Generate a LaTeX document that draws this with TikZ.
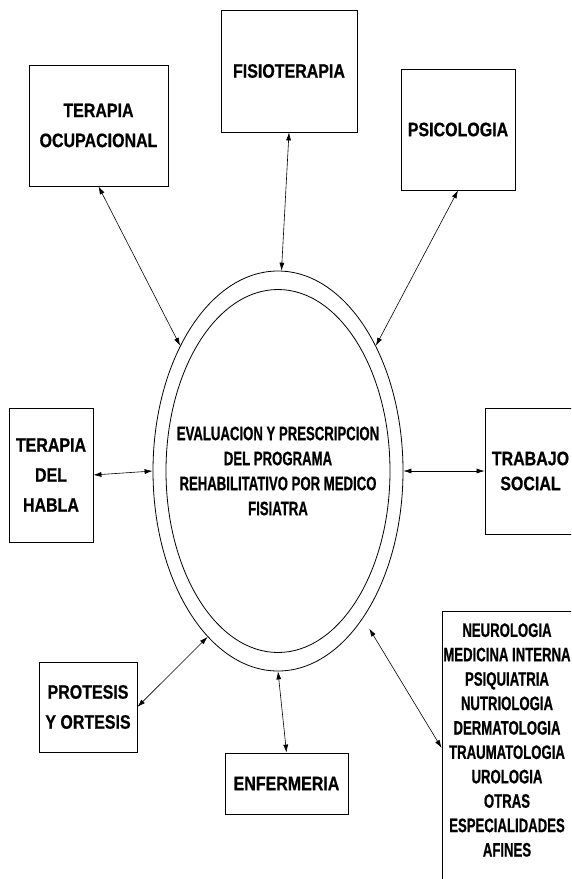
\documentclass[tikz,border=0pt]{standalone}
\usepackage{fontspec}
\newfontfamily\narrowfont{Liberation Sans}[FakeStretch=0.82, BoldFeatures={FakeBold=0.6}]
\newfontfamily\narrowerfont{Liberation Sans}[FakeStretch=0.675, BoldFeatures={FakeBold=0.6}]
\usetikzlibrary{shapes.geometric,arrows.meta}
\begin{document}
\begin{tikzpicture}[x=1pt,y=-1pt,
  box/.style={draw, line width=0.8pt, align=center, inner sep=0pt,
    font=\narrowfont\bfseries\fontsize{19.5}{30}\selectfont},
  small/.style={align=center, inner sep=0pt,
    font=\narrowerfont\bfseries\fontsize{19.5}{25}\selectfont},
  link/.style={{Latex[length=8pt,width=5pt]}-{Latex[length=8pt,width=5pt]}, line width=0.6pt}]
\useasboundingbox (0,0) rectangle (571,879);
\clip (0,0) rectangle (571,879);
\fill[white] (0,0) rectangle (571,879);

% central ellipse
\node[ellipse, draw, line width=0.8pt, minimum width=250pt, minimum height=400pt, inner sep=0pt] (el) at (278,471) {};
\draw[line width=0.8pt] (el.center) ellipse [x radius=112pt, y radius=181.5pt];
\node[small] (ev) at (el.center) {EVALUACION Y PRESCRIPCION\\DEL PROGRAMA\\REHABILITATIVO POR MEDICO\\FISIATRA};

% boxes
\node[box, minimum width=139pt, minimum height=121pt] (to) at (98.5,125.5) {TERAPIA\\OCUPACIONAL};
\node[box, minimum width=136pt, minimum height=122pt] (fi) at (289,71) {FISIOTERAPIA};
\node[box, minimum width=114pt, minimum height=121pt] (ps) at (458,129.5) {PSICOLOGIA};
\node[box, minimum width=84pt, minimum height=134pt] (hb) at (51,475) {TERAPIA\\DEL\\HABLA};
\node[box, minimum width=91pt, minimum height=126pt, font=\narrowfont\bfseries\fontsize{19.5}{25}\selectfont] (ts) at (530.5,471) {TRABAJO\\SOCIAL};
\node[box, minimum width=98pt, minimum height=90pt] (pr) at (88,707) {PROTESIS\\Y ORTESIS};
\node[box, minimum width=123pt, minimum height=61pt] (en) at (286.5,783.5) {ENFERMERIA};
\node[draw, line width=0.8pt, minimum width=132pt, minimum height=274pt, inner sep=0pt] (sp) at (508,748) {};
\node[small, font=\narrowerfont\bfseries\fontsize{19.5}{24.4}\selectfont] (spl) at (507,740) {NEUROLOGIA\\MEDICINA INTERNA\\PSIQUIATRIA\\NUTRIOLOGIA\\DERMATOLOGIA\\TRAUMATOLOGIA\\UROLOGIA\\OTRAS\\ESPECIALIDADES\\AFINES};

% connectors
\draw[link] (to.south) -- (el.128);
\draw[link] (fi.south) -- (el.89);
\draw[link] (ps.south) -- (el.52.6);
\draw[link] (hb.east) -- (el.west);
\draw[link] (el.east) -- (ts.west);
\draw[link] (pr.east) -- (el.247.3);
\draw[link] (el.south) -- (en.north);
\draw[link, shorten <=12pt] (el.300) -- (sp.west);
\end{tikzpicture}
\end{document}
